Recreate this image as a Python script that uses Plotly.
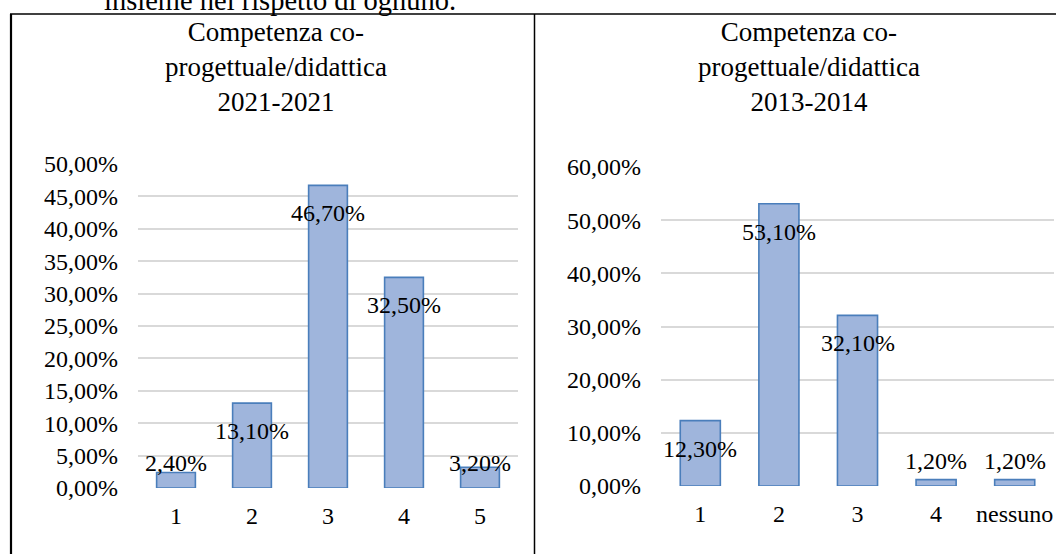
import plotly.graph_objects as go

# ---- data ----
cats_left = ["1", "2", "3", "4", "5"]
vals_left = [0.024, 0.131, 0.467, 0.325, 0.032]
cats_right = ["1", "2", "3", "4", "nessuno"]
vals_right = [0.123, 0.531, 0.321, 0.012, 0.012]
yticks_left = [0.0, 0.05, 0.10, 0.15, 0.20, 0.25, 0.30, 0.35, 0.40, 0.45, 0.50]
yticks_right = [0.0, 0.10, 0.20, 0.30, 0.40, 0.50, 0.60]
title_left = "Competenza co-<br>progettuale/didattica<br>2021-2021"
title_right = "Competenza co-<br>progettuale/didattica<br>2013-2014"
top_text = "insieme nel rispetto di ognuno."

W, H = 1056, 554
FONT = "Liberation Serif"
BAR_FILL = "#9fb5dc"
BAR_LINE = "#4a7ebb"
GRID = "#d9d9d9"


def px_x(p):
    return p / W


def px_y(p):
    return (H - p) / H


# plot areas in pixels (left, right, top, bottom)
areaL = (138, 518, 164, 488)
areaR = (661, 1054, 167, 486)

fig = go.Figure()
fig.add_trace(go.Bar(x=cats_left, y=vals_left, xaxis="x", yaxis="y", width=0.51,
                     marker=dict(color=BAR_FILL, line=dict(color=BAR_LINE, width=1.6)),
                     hoverinfo="skip"))
fig.add_trace(go.Bar(x=cats_right, y=vals_right, xaxis="x2", yaxis="y2", width=0.51,
                     marker=dict(color=BAR_FILL, line=dict(color=BAR_LINE, width=1.6)),
                     hoverinfo="skip"))

tickfont = dict(family=FONT, size=24, color="#000000")


def yax(area, rng, ticks):
    return dict(domain=[px_y(area[3]), px_y(area[2])], range=rng, tickvals=ticks,
                tickformat=".2%", showgrid=True, gridcolor=GRID, gridwidth=1.5,
                zeroline=False, showline=False, ticks="", tickfont=tickfont,
                ticklabelstandoff=19, fixedrange=True, automargin=False)


def xax(area, n):
    return dict(domain=[px_x(area[0]), px_x(area[1])], type="category", range=[-0.5, n - 0.5],
                showgrid=False, zeroline=False, showline=False, ticks="",
                tickfont=tickfont, ticklabelstandoff=11, fixedrange=True, automargin=False)


fig.update_layout(
    template="none",
    width=W, height=H, autosize=False,
    margin=dict(l=0, r=0, t=0, b=0, pad=0),
    paper_bgcolor="white", plot_bgcolor="white",
    separators=",.",
    showlegend=False,
    xaxis=dict(xax(areaL, len(cats_left)), anchor="y"),
    yaxis=dict(yax(areaL, [0, 0.5], yticks_left), anchor="x"),
    xaxis2=dict(xax(areaR, len(cats_right)), anchor="y2"),
    yaxis2=dict(yax(areaR, [0, 0.6], yticks_right), anchor="x2"),
)

annotations = []
labelfont = dict(family=FONT, size=24, color="#000000")


def add_labels(cats, vals, area, ymax, xref, yref):
    ppu = (area[3] - area[2]) / ymax
    for i, v in enumerate(vals):
        txt = f"{v * 100:.2f}%".replace(".", ",")
        if v * ppu >= 53:
            annotations.append(dict(x=i, y=v, xref=xref, yref=yref, text=txt, showarrow=False,
                                    yanchor="middle", yshift=-28, font=labelfont))
        else:
            annotations.append(dict(x=i, y=0, xref=xref, yref=yref, text=txt, showarrow=False,
                                    yanchor="middle", yshift=25, font=labelfont))


add_labels(cats_left, vals_left, areaL, 0.5, "x", "y")
add_labels(cats_right, vals_right, areaR, 0.6, "x2", "y2")

titlefont = dict(family=FONT, size=27, color="#000000")
annotations.append(dict(x=px_x(276), y=px_y(67), xref="paper", yref="paper", text=title_left,
                        showarrow=False, xanchor="center", yanchor="middle", font=titlefont))
annotations.append(dict(x=px_x(809), y=px_y(67), xref="paper", yref="paper", text=title_right,
                        showarrow=False, xanchor="center", yanchor="middle", font=titlefont))
annotations.append(dict(x=px_x(280), y=px_y(17), xref="paper", yref="paper", text=top_text,
                        showarrow=False, xanchor="center", yanchor="bottom", borderpad=0,
                        font=dict(family=FONT, size=28.5, color="#000000")))
fig.update_layout(annotations=annotations)

shapes = [
    dict(type="line", xref="paper", yref="paper", x0=px_x(10), x1=px_x(1056), y0=px_y(14), y1=px_y(14),
         line=dict(color="#000000", width=1.5)),
    dict(type="line", xref="paper", yref="paper", x0=px_x(11), x1=px_x(11), y0=px_y(14), y1=px_y(554),
         line=dict(color="#000000", width=2.2)),
    dict(type="line", xref="paper", yref="paper", x0=px_x(534.5), x1=px_x(534.5), y0=px_y(14), y1=px_y(554),
         line=dict(color="#000000", width=1.5)),
]
fig.update_layout(shapes=shapes)

fig.write_html("out.html", config={"displayModeBar": False},
               post_script="document.body.style.margin='0';document.body.style.overflow='hidden';")
